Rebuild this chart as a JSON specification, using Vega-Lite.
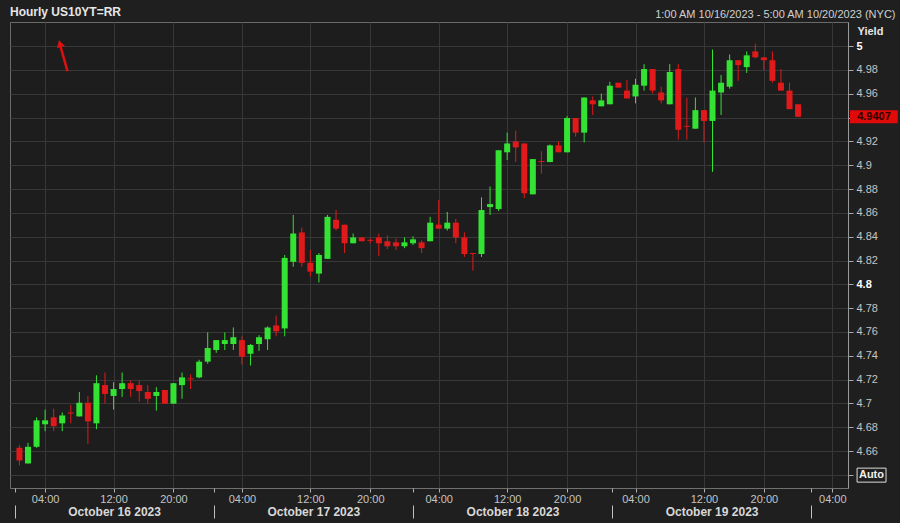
{
  "$schema": "https://vega.github.io/schema/vega-lite/v6.json",
  "width": 838,
  "height": 466,
  "autosize": "none",
  "padding": {"left": 10, "top": 22, "right": 52, "bottom": 35},
  "background": "#1f1f1f",
  "title": {"text": "Hourly US10YT=RR", "anchor": "start", "frame": "group", "offset": -11, "fontSize": 12, "fontWeight": "bold", "color": "#e6e6e6", "font": "Liberation Sans"},
  "config": {
    "view": {"fill": "#1d1d1d", "stroke": "#6a6a6a"},
    "axis": {"labelFont": "Liberation Sans", "titleFont": "Liberation Sans", "labelOverlap": false},
    "text": {"font": "Liberation Sans"}
  },
  "datasets": {
    "candles": [
      {"i":0,"open":4.6628,"close":4.6521,"high":4.6652,"low":4.6480},
      {"i":1,"open":4.6496,"close":4.6636,"high":4.6669,"low":4.6496},
      {"i":2,"open":4.6636,"close":4.6858,"high":4.6883,"low":4.6628},
      {"i":3,"open":4.6825,"close":4.6858,"high":4.6948,"low":4.6767},
      {"i":4,"open":4.6883,"close":4.6809,"high":4.6956,"low":4.6767},
      {"i":5,"open":4.6833,"close":4.6899,"high":4.6924,"low":4.6767},
      {"i":6,"open":4.6924,"close":4.6915,"high":4.6989,"low":4.6833},
      {"i":7,"open":4.6891,"close":4.7006,"high":4.7096,"low":4.6891},
      {"i":8,"open":4.7006,"close":4.6850,"high":4.7063,"low":4.6661},
      {"i":9,"open":4.6833,"close":4.7170,"high":4.7236,"low":4.6784},
      {"i":10,"open":4.7154,"close":4.7080,"high":4.7260,"low":4.6998},
      {"i":11,"open":4.7063,"close":4.7121,"high":4.7178,"low":4.6948},
      {"i":12,"open":4.7121,"close":4.7170,"high":4.7260,"low":4.7055},
      {"i":13,"open":4.7170,"close":4.7121,"high":4.7195,"low":4.7055},
      {"i":14,"open":4.7154,"close":4.7104,"high":4.7195,"low":4.7014},
      {"i":15,"open":4.7096,"close":4.7039,"high":4.7154,"low":4.6998},
      {"i":16,"open":4.7063,"close":4.7096,"high":4.7137,"low":4.6940},
      {"i":17,"open":4.7113,"close":4.6998,"high":4.7113,"low":4.6998},
      {"i":18,"open":4.6998,"close":4.7170,"high":4.7170,"low":4.6998},
      {"i":19,"open":4.7154,"close":4.7219,"high":4.7260,"low":4.7039},
      {"i":20,"open":4.7211,"close":4.7203,"high":4.7244,"low":4.7121},
      {"i":21,"open":4.7219,"close":4.7351,"high":4.7367,"low":4.7211},
      {"i":22,"open":4.7351,"close":4.7466,"high":4.7597,"low":4.7334},
      {"i":23,"open":4.7449,"close":4.7532,"high":4.7532,"low":4.7425},
      {"i":24,"open":4.7499,"close":4.7532,"high":4.7597,"low":4.7449},
      {"i":25,"open":4.7499,"close":4.7556,"high":4.7638,"low":4.7449},
      {"i":26,"open":4.7532,"close":4.7392,"high":4.7564,"low":4.7326},
      {"i":27,"open":4.7417,"close":4.7491,"high":4.7499,"low":4.7318},
      {"i":28,"open":4.7499,"close":4.7556,"high":4.7573,"low":4.7441},
      {"i":29,"open":4.7540,"close":4.7638,"high":4.7647,"low":4.7449},
      {"i":30,"open":4.7655,"close":4.7606,"high":4.7737,"low":4.7564},
      {"i":31,"open":4.7630,"close":4.8222,"high":4.8247,"low":4.7564},
      {"i":32,"open":4.8189,"close":4.8427,"high":4.8583,"low":4.8148},
      {"i":33,"open":4.8436,"close":4.8181,"high":4.8477,"low":4.8148},
      {"i":34,"open":4.8181,"close":4.8107,"high":4.8288,"low":4.8066},
      {"i":35,"open":4.8090,"close":4.8247,"high":4.8263,"low":4.8016},
      {"i":36,"open":4.8214,"close":4.8567,"high":4.8583,"low":4.8214},
      {"i":37,"open":4.8542,"close":4.8468,"high":4.8624,"low":4.8452},
      {"i":38,"open":4.8501,"close":4.8345,"high":4.8501,"low":4.8263},
      {"i":39,"open":4.8345,"close":4.8394,"high":4.8427,"low":4.8345},
      {"i":40,"open":4.8394,"close":4.8362,"high":4.8394,"low":4.8362},
      {"i":41,"open":4.8374,"close":4.8366,"high":4.8386,"low":4.8345},
      {"i":42,"open":4.8394,"close":4.8345,"high":4.8427,"low":4.8238},
      {"i":43,"open":4.8362,"close":4.8320,"high":4.8411,"low":4.8296},
      {"i":44,"open":4.8353,"close":4.8320,"high":4.8386,"low":4.8288},
      {"i":45,"open":4.8320,"close":4.8353,"high":4.8394,"low":4.8304},
      {"i":46,"open":4.8345,"close":4.8378,"high":4.8403,"low":4.8329},
      {"i":47,"open":4.8353,"close":4.8304,"high":4.8370,"low":4.8263},
      {"i":48,"open":4.8362,"close":4.8518,"high":4.8567,"low":4.8362},
      {"i":49,"open":4.8501,"close":4.8468,"high":4.8707,"low":4.8468},
      {"i":50,"open":4.8468,"close":4.8518,"high":4.8608,"low":4.8452},
      {"i":51,"open":4.8518,"close":4.8394,"high":4.8551,"low":4.8345},
      {"i":52,"open":4.8394,"close":4.8255,"high":4.8436,"low":4.8230},
      {"i":53,"open":4.8263,"close":4.8255,"high":4.8263,"low":4.8115},
      {"i":54,"open":4.8255,"close":4.8624,"high":4.8731,"low":4.8230},
      {"i":55,"open":4.8649,"close":4.8674,"high":4.8822,"low":4.8583},
      {"i":56,"open":4.8633,"close":4.9126,"high":4.9126,"low":4.8616},
      {"i":57,"open":4.9109,"close":4.9183,"high":4.9274,"low":4.9044},
      {"i":58,"open":4.9200,"close":4.9150,"high":4.9290,"low":4.9027},
      {"i":59,"open":4.9183,"close":4.8764,"high":4.9183,"low":4.8723},
      {"i":60,"open":4.8756,"close":4.9052,"high":4.9052,"low":4.8756},
      {"i":61,"open":4.9035,"close":4.9027,"high":4.9118,"low":4.8929},
      {"i":62,"open":4.9027,"close":4.9167,"high":4.9175,"low":4.9027},
      {"i":63,"open":4.9167,"close":4.9109,"high":4.9200,"low":4.9109},
      {"i":64,"open":4.9109,"close":4.9397,"high":4.9413,"low":4.9109},
      {"i":65,"open":4.9397,"close":4.9274,"high":4.9397,"low":4.9241},
      {"i":66,"open":4.9274,"close":4.9569,"high":4.9569,"low":4.9191},
      {"i":67,"open":4.9545,"close":4.9512,"high":4.9578,"low":4.9422},
      {"i":68,"open":4.9495,"close":4.9545,"high":4.9602,"low":4.9495},
      {"i":69,"open":4.9512,"close":4.9668,"high":4.9701,"low":4.9512},
      {"i":70,"open":4.9693,"close":4.9652,"high":4.9693,"low":4.9652},
      {"i":71,"open":4.9627,"close":4.9561,"high":4.9717,"low":4.9561},
      {"i":72,"open":4.9578,"close":4.9676,"high":4.9726,"low":4.9520},
      {"i":73,"open":4.9668,"close":4.9808,"high":4.9849,"low":4.9627},
      {"i":74,"open":4.9808,"close":4.9627,"high":4.9808,"low":4.9602},
      {"i":75,"open":4.9611,"close":4.9545,"high":4.9660,"low":4.9520},
      {"i":76,"open":4.9512,"close":4.9783,"high":4.9849,"low":4.9512},
      {"i":77,"open":4.9808,"close":4.9298,"high":4.9849,"low":4.9216},
      {"i":78,"open":4.9331,"close":4.9323,"high":4.9569,"low":4.9216},
      {"i":79,"open":4.9307,"close":4.9463,"high":4.9569,"low":4.9307},
      {"i":80,"open":4.9463,"close":4.9372,"high":4.9463,"low":4.9191},
      {"i":81,"open":4.9372,"close":4.9627,"high":4.9972,"low":4.8945},
      {"i":82,"open":4.9611,"close":4.9693,"high":4.9758,"low":4.9422},
      {"i":83,"open":4.9660,"close":4.9882,"high":4.9931,"low":4.9643},
      {"i":84,"open":4.9882,"close":4.9841,"high":4.9882,"low":4.9709},
      {"i":85,"open":4.9824,"close":4.9923,"high":4.9956,"low":4.9775},
      {"i":86,"open":4.9956,"close":4.9906,"high":5.0021,"low":4.9898},
      {"i":87,"open":4.9906,"close":4.9882,"high":4.9906,"low":4.9800},
      {"i":88,"open":4.9882,"close":4.9709,"high":4.9956,"low":4.9693},
      {"i":89,"open":4.9693,"close":4.9627,"high":4.9808,"low":4.9627},
      {"i":90,"open":4.9627,"close":4.9471,"high":4.9693,"low":4.9471},
      {"i":91,"open":4.9512,"close":4.9407,"high":4.9512,"low":4.9407}
    ]
  },
  "resolve": {"scale": {"x": "independent"}, "axis": {"x": "independent"}},
  "layer": [
    {
      "data": {"name": "candles"},
      "encoding": {
        "x": {
          "field": "i", "type": "quantitative",
          "scale": {"domain": [-0.52, 96.25], "nice": false, "zero": false},
          "axis": {
            "orient": "bottom", "title": null,
            "values": [3, 11, 18, 26, 34, 41, 49, 57, 64, 72, 80, 87, 95],
            "tickCount": 40,
            "labelExpr": "datum.value % 23 == 3 ? '04:00' : (datum.value % 23 == 11 ? '12:00' : '20:00')",
            "grid": true, "gridColor": "#383838", "gridWidth": 1,
            "tickSize": 4, "tickColor": "#b0b0b0",
            "domain": true, "domainColor": "#707070",
            "labelColor": "#c4c4c4", "labelFontSize": 11, "labelPadding": 1,
            "labelFlush": false, "labelOverlap": false
          }
        },
        "y": {
          "field": "low", "type": "quantitative",
          "scale": {"domain": [4.6332, 5.0161], "nice": false, "zero": false},
          "axis": {
            "orient": "right",
            "values": [4.64, 4.66, 4.68, 4.7, 4.72, 4.74, 4.76, 4.78, 4.8, 4.82, 4.84, 4.86, 4.88, 4.9, 4.92, 4.94, 4.96, 4.98, 5.0],
            "tickCount": 40,
            "labelExpr": "(datum.value < 4.65 || abs(datum.value - 4.94) < 0.001) ? '' : format(datum.value, '.2~f')",
            "grid": true, "gridColor": "#383838", "gridWidth": 1,
            "tickSize": 5, "tickColor": "#a8a8a8",
            "domain": true, "domainColor": "#9a9a9a",
            "labelFontSize": 11, "labelPadding": 3,
            "labelColor": {"condition": {"test": "abs(datum.value - 5) < 0.001 || abs(datum.value - 4.8) < 0.001", "value": "#ffffff"}, "value": "#c4c4c4"},
            "labelFontWeight": {"condition": {"test": "abs(datum.value - 5) < 0.001 || abs(datum.value - 4.8) < 0.001", "value": "bold"}, "value": "normal"},
            "labelFlush": false, "labelOverlap": false,
            "title": "Yield", "titleAngle": 0, "titleAlign": "left", "titleBaseline": "middle",
            "titleX": 9, "titleY": 9, "titleFontSize": 11, "titleFontWeight": "bold", "titleColor": "#e6e6e6"
          }
        },
        "color": {"condition": {"test": "datum.close >= datum.open", "value": "#33e233"}, "value": "#e01a1a"}
      },
      "layer": [
        {
          "mark": {"type": "rule", "strokeWidth": 1},
          "encoding": {
            "y2": {"field": "high"}
          }
        },
        {
          "mark": {"type": "bar", "size": 6},
          "encoding": {
            "y": {"field": "open", "type": "quantitative"},
            "y2": {"field": "close"}
          }
        }
      ]
    },
    {
      "data": {"values": [{"last": 4.9407}]},
      "encoding": {
        "x": {
          "datum": 96.48, "type": "quantitative",
          "scale": {"domain": [-0.52, 96.25], "nice": false, "zero": false},
          "axis": {
            "orient": "bottom", "offset": 17, "title": null,
            "values": [0, 23, 46, 69, 92],
            "labelExpr": "datum.value == 0 ? 'October 16 2023' : datum.value == 23 ? 'October 17 2023' : datum.value == 46 ? 'October 18 2023' : datum.value == 69 ? 'October 19 2023' : ''",
            "labelOffset": 99.6, "labelPadding": -12,
            "labelFontSize": 12, "labelFontWeight": "bold", "labelColor": "#d8d8d8",
            "labelFlush": false, "labelOverlap": false, "labelBound": false,
            "tickSize": 13, "tickColor": "#c0c0c0",
            "domain": false, "grid": false
          }
        }
      },
      "layer": [
        {
          "mark": {"type": "bar", "size": 13, "color": "#e00a0a"},
          "encoding": {
            "x2": {"datum": 102.0},
            "y": {"field": "last", "type": "quantitative"}
          }
        },
        {
          "mark": {"type": "text", "fontSize": 11, "fontWeight": "bold", "color": "#2a0000", "align": "center", "baseline": "middle"},
          "encoding": {
            "x": {"datum": 99.25, "type": "quantitative"},
            "y": {"field": "last", "type": "quantitative"},
            "text": {"field": "last", "type": "quantitative", "format": ".4f"}
          }
        }
      ]
    },
    {
      "data": {"values": [{}]},
      "encoding": {
        "x": {
          "datum": 6.12, "type": "quantitative",
          "scale": {"domain": [-0.52, 96.25], "nice": false, "zero": false},
          "axis": {
            "orient": "top", "labels": false, "ticks": false, "domain": false, "grid": false,
            "title": "1:00 AM 10/16/2023 - 5:00 AM 10/20/2023 (NYC)",
            "titleX": 885, "titleY": -8, "titleAlign": "right", "titleBaseline": "middle",
            "titleFontSize": 11, "titleFontWeight": "normal", "titleColor": "#d0d0d0"
          }
        }
      },
      "layer": [
        {
          "mark": {"type": "rule", "strokeWidth": 2.5, "color": "#e01010"},
          "encoding": {
            "x2": {"datum": 5.31},
            "y": {"datum": 4.9791, "type": "quantitative"},
            "y2": {"datum": 4.9997}
          }
        },
        {
          "mark": {"type": "point", "shape": "triangle-up", "filled": true, "size": 70, "angle": 344, "color": "#e01010", "opacity": 1},
          "encoding": {
            "x": {"datum": 5.25, "type": "quantitative"},
            "y": {"datum": 5.0021, "type": "quantitative"}
          }
        }
      ]
    },
    {
      "data": {"values": [{"label": "Auto"}]},
      "encoding": {
        "x": {
          "datum": 97.3, "type": "quantitative",
          "scale": {"domain": [-0.52, 96.25], "nice": false, "zero": false},
          "axis": {
            "orient": "bottom", "title": null, "values": [0, 23, 46, 69, 92],
            "labels": false, "tickSize": 4, "tickColor": "#b0b0b0", "domain": false, "grid": false
          }
        }
      },
      "layer": [
        {
          "mark": {"type": "bar", "size": 14, "color": "#1f1f1f", "stroke": "#dcdcdc", "strokeWidth": 1},
          "encoding": {
            "x2": {"datum": 100.64},
            "y": {"datum": 4.6398, "type": "quantitative"}
          }
        },
        {
          "mark": {"type": "text", "fontSize": 11, "fontWeight": "bold", "color": "#f0f0f0", "align": "center", "baseline": "middle"},
          "encoding": {
            "x": {"datum": 98.96, "type": "quantitative"},
            "y": {"datum": 4.6398, "type": "quantitative"},
            "text": {"field": "label", "type": "nominal"}
          }
        }
      ]
    }
  ]
}
